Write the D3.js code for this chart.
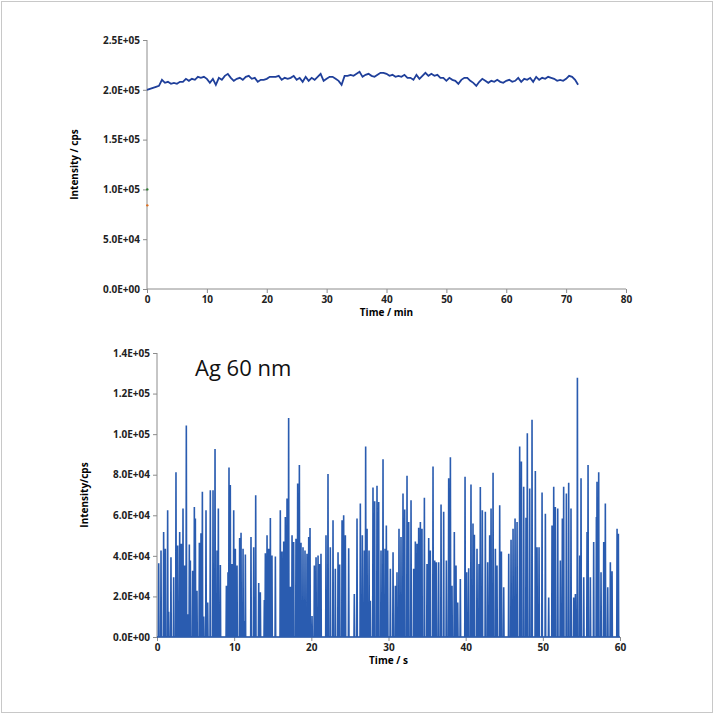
<!DOCTYPE html>
<html><head><meta charset="utf-8">
<script src="https://cdn.jsdelivr.net/npm/d3@7"></script>
<style>body{margin:0;background:#fff}svg{display:block}</style>
</head><body>
<svg id="c" width="714" height="714"></svg>
<script>
// Top chart: intensity (x1000 cps) vs time (min), every 0.5 min
const topTimeStep = 0.5;
const topValues = [200,201,202,203,204,210,207,208,206,207,206,208,208,211,209,211,210,213,212,213,211,207,211,205,212,210,214,216,212,209,211,212,210,213,214,211,212,208,210,210,211,213,213,213,214,210,212,211,212,214,210,212,208,213,209,212,210,213,216,209,211,213,213,211,209,205,214,214,215,214,216,218,213,215,216,214,213,215,217,217,216,214,215,213,214,213,215,212,212,210,215,211,214,217,214,216,214,215,212,212,209,212,210,209,206,210,212,212,209,207,204,208,211,209,207,209,208,210,208,207,209,210,208,209,212,208,211,210,212,208,213,210,212,211,213,212,211,209,210,209,211,214,213,210,205];
const topExtraPoints = [{t:0.05,v:100,c:"#2e7d32"},{t:0.05,v:84,c:"#e07020"}];
const topYTicks = [0,50000,100000,150000,200000,250000];
const topXTicks = [0,10,20,30,40,50,60,70,80];

// Bottom chart: spike times (s) and heights (x1000 cps)
const spikeTimes = [0.22,0.52,0.86,1.08,1.38,1.51,1.81,2.16,2.46,2.68,2.94,3.15,3.37,3.59,3.80,3.97,4.19,4.32,4.62,4.84,4.97,5.18,5.49,5.70,5.88,6.05,6.35,6.57,6.91,7.26,7.52,7.78,7.95,8.21,8.99,9.20,9.33,9.50,9.72,9.94,10.15,10.37,10.71,10.89,11.15,11.23,11.45,12.18,12.53,12.79,13.18,13.39,13.91,14.04,14.26,14.47,14.69,14.90,15.34,15.98,16.20,16.42,16.63,16.85,17.06,17.28,17.50,17.71,18.01,18.23,18.45,18.66,18.92,19.18,19.44,19.66,19.83,20.09,20.39,20.61,20.87,21.08,21.25,21.90,22.16,22.46,22.81,23.11,23.46,23.67,23.98,24.19,24.41,24.84,25.57,25.92,26.35,26.61,26.87,27.04,27.22,27.48,27.65,27.99,28.21,28.51,28.73,29.03,29.29,29.55,29.72,29.89,30.24,30.59,30.89,31.10,31.36,31.62,31.88,32.10,32.40,32.62,32.92,33.26,33.48,33.70,33.91,34.13,34.34,34.65,34.99,35.21,35.42,35.77,35.99,36.20,36.50,36.81,37.15,37.50,37.80,38.02,38.23,38.53,38.75,38.97,39.31,39.92,40.13,40.39,40.69,40.95,41.13,41.47,41.73,41.90,42.16,42.55,42.85,43.11,43.29,43.55,43.85,44.06,44.41,44.63,44.93,45.58,45.88,46.14,46.40,46.66,47.00,47.22,47.52,47.82,47.99,48.30,48.60,49.03,49.25,49.51,49.90,50.33,50.76,51.19,51.41,51.62,51.93,52.27,52.53,52.70,53.05,53.35,53.65,54.00,54.22,54.48,54.78,54.95,55.30,55.73,55.86,56.16,56.59,56.94,57.02,57.24,57.54,57.89,58.10,58.41,58.75,58.97,59.62,59.79];
const spikeValues = [36.4,42.6,51.7,43.5,62.5,12.4,39.3,29.4,81.2,45.1,51.7,46.0,63.3,35.2,104.3,11.2,45.6,37.7,32.7,64.1,58.4,22.8,46.4,51.2,71.6,10.1,62.5,17.0,72.4,72.4,92.7,42.6,63.3,35.5,25.3,31.9,83.6,74.9,36.0,62.5,43.5,35.2,48.8,51.4,43.5,7.9,40.7,49.3,44.3,69.9,26.6,22.0,18.2,41.3,50.1,43.5,58.7,40.2,39.7,62.5,42.2,47.1,59.2,68.3,107.9,24.8,50.1,46.8,48.4,75.7,84.8,46.4,44.3,42.6,41.0,49.3,53.7,10.4,35.2,39.3,40.2,36.0,41.0,50.1,80.3,44.3,57.5,33.6,41.8,35.7,57.5,60.0,50.1,43.8,21.2,58.4,65.8,50.1,42.6,93.9,53.4,42.6,17.9,73.7,66.9,74.6,66.6,42.6,87.6,43.5,55.0,42.6,33.6,41.8,25.3,31.9,53.4,49.3,70.7,62.8,79.5,56.7,67.4,33.6,47.1,46.0,53.9,56.7,53.4,68.6,36.0,48.8,42.6,84.0,37.7,36.9,36.9,65.3,61.7,37.7,78.2,88.6,25.3,51.7,35.2,17.0,28.6,79.0,31.9,33.9,75.2,55.9,50.4,43.5,36.0,73.9,62.5,61.7,36.9,50.1,63.3,81.0,43.5,35.2,65.0,42.2,24.5,41.0,47.9,53.4,58.4,56.7,93.9,86.5,74.1,58.8,100.5,73.2,107.1,81.8,44.3,44.3,71.2,60.8,19.5,55.0,74.1,64.1,63.3,37.7,58.4,74.1,70.7,76.0,63.3,19.5,21.2,127.8,40.2,78.2,29.4,51.7,84.8,29.4,46.8,59.2,76.5,81.2,31.9,46.8,65.8,24.5,36.9,32.4,53.4,50.9];
const botYTicks = [0,20000,40000,60000,80000,100000,120000,140000];
const botXTicks = [0,10,20,30,40,50,60];

const svg = d3.select("#c");
const FONT = "'Open Sans', 'Liberation Sans', sans-serif";
const AX = "#8c8c8c";
svg.append("rect").attr("x",1.5).attr("y",1.5).attr("width",711).attr("height",711).attr("fill","none").attr("stroke","#c8c8c8");

const fmt = v => { if(v===0) return "0.0E+00"; const e=Math.floor(Math.log10(v)); return (v/Math.pow(10,e)).toFixed(1)+"E+"+String(e).padStart(2,"0"); };

function axes(x,y,xt,yt,xl,yl,b){
  const gx = svg.append("g").attr("transform",`translate(0,${y.range()[0]})`)
    .call(d3.axisBottom(x).tickValues(xt).tickSize(4).tickFormat(d3.format("d")));
  const gy = svg.append("g").attr("transform",`translate(${x.range()[0]},0)`)
    .call(d3.axisLeft(y).tickValues(yt).tickSize(4).tickFormat(fmt));
  [gx,gy].forEach(g=>{g.selectAll("path,line").attr("stroke",AX);g.selectAll("text").attr("font-family",FONT).attr("font-size",10).attr("font-weight","bold").attr("fill","#222");});
  gx.select(".domain").attr("d",`M${x.range()[0]},0H${x.range()[1]}`);
  gy.select(".domain").attr("d",`M0,${y.range()[0]}V${y.range()[1]}`);
  const xm=(x.range()[0]+x.range()[1])/2;
  svg.append("text").attr("x",xm).attr("y",b.xly).attr("text-anchor","middle").attr("font-family",FONT).attr("font-size",10).attr("font-weight","bold").text(xl);
  const ym=(y.range()[0]+y.range()[1])/2;
  svg.append("text").attr("transform",`translate(${b.ylx},${ym}) rotate(-90)`).attr("text-anchor","middle").attr("font-family",FONT).attr("font-size",10).attr("font-weight","bold").text(yl);
}

// Top
const x1 = d3.scaleLinear().domain([0,80]).range([147,626]);
const y1 = d3.scaleLinear().domain([0,250000]).range([289,40]);
axes(x1,y1,topXTicks,topYTicks,"Time / min","Intensity / cps",{xly:316,ylx:78});
svg.append("path").datum(topValues).attr("fill","none").attr("stroke","#1f3f9a").attr("stroke-width",1.8)
  .attr("d",d3.line().x((d,i)=>x1(i*topTimeStep)).y(d=>y1(d*1000)));
svg.selectAll(".ep").data(topExtraPoints).join("circle").attr("cx",d=>x1(d.t)).attr("cy",d=>y1(d.v*1000)).attr("r",1.2).attr("fill",d=>d.c);

// Bottom
const x2 = d3.scaleLinear().domain([0,60]).range([157,620]);
const y2 = d3.scaleLinear().domain([0,140000]).range([637,353]);
axes(x2,y2,botXTicks,botYTicks,"Time / s","Intensity/cps",{xly:664,ylx:88});
const pts=[[0,0]];
spikeTimes.forEach((t,i)=>{pts.push([t-0.04,0],[t,spikeValues[i]*1000],[t+0.04,0]);});
pts.push([60,0]);
svg.append("path").datum(pts).attr("fill","none").attr("stroke","#2a5cb0").attr("stroke-width",1.6)
  .attr("d",d3.line().x(d=>x2(d[0])).y(d=>y2(d[1])));
svg.append("text").attr("x",195).attr("y",376).attr("font-family",FONT).attr("font-size",22).attr("fill","#111").text("Ag 60 nm");
</script>
</body></html>
